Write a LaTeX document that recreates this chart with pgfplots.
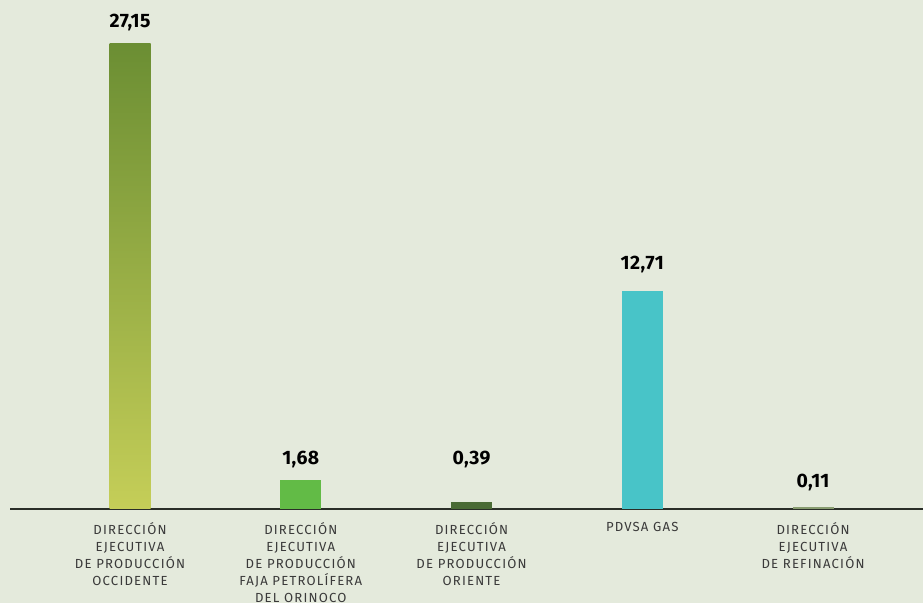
\documentclass[border=0pt]{standalone}
\usepackage{pgfplots}
\pgfplotsset{compat=1.18}
\usepackage{fontspec}
\setmainfont{Fira Sans}
\newfontfamily\labfont[LetterSpace=9]{Fira Sans}
\newfontfamily\numfont[LetterSpace=2]{Fira Sans}
\definecolor{bg}{HTML}{E4EADC}
\definecolor{bOne}{HTML}{6B8E33}
\definecolor{bOneM}{HTML}{B3BE50}
\definecolor{bOneB}{HTML}{C5CE58}
\definecolor{bTwo}{HTML}{62BB46}
\definecolor{bThree}{HTML}{4A6B35}
\definecolor{bFour}{HTML}{48C4C8}
\definecolor{bFive}{HTML}{889C70}
\definecolor{axc}{HTML}{2A2E28}
\definecolor{labc}{HTML}{3A3A3A}
\begin{document}
\begin{tikzpicture}
\useasboundingbox (0,0) rectangle (923bp,603bp);
\fill[bg] (0,0) rectangle (923bp,603bp);
\begin{axis}[
  at={(10bp,94bp)}, anchor=south west,
  scale only axis,
  width=913bp, height=497.6bp,
  xmin=-0.703, xmax=4.644,
  ymin=0, ymax=29,
  axis x line=bottom, axis y line=none,
  axis line style={axc, line width=1.2pt, -},
  x axis line style={-},
  xtick={0,1,2,3,4},
  xticklabels={
    {DIRECCIÓN\\EJECUTIVA\\DE PRODUCCIÓN\\OCCIDENTE},
    {DIRECCIÓN\\EJECUTIVA\\DE PRODUCCIÓN\\FAJA PETROLÍFERA\\DEL ORINOCO},
    {DIRECCIÓN\\EJECUTIVA\\DE PRODUCCIÓN\\ORIENTE},
    {PDVSA GAS},
    {DIRECCIÓN\\EJECUTIVA\\DE REFINACIÓN}},
  xticklabel style={align=center, font=\labfont\fontsize{13.2}{17}\selectfont, text=labc, anchor=north, yshift=-10bp},
  major tick length=0pt,
  ytick=\empty,
  clip=false,
  ybar, bar width=41bp, bar shift=0pt,
]
\addplot[draw=none, top color=bOne, middle color=bOneM, bottom color=bOneB] coordinates {(0,27.15)};
\addplot[draw=none, fill=bTwo] coordinates {(1,1.68)};
\addplot[draw=none, fill=bThree] coordinates {(2,0.39)};
\addplot[draw=none, fill=bFour] coordinates {(3,12.71)};
\addplot[draw=none, fill=bFive] coordinates {(4,0.11)};
\addplot[draw=none, mark=none, ybar=0pt, fill=none, bar width=0pt,
  nodes near coords, point meta=explicit symbolic,
  nodes near coords align=center,
  every node near coord/.append style={font=\numfont\bfseries\fontsize{19.5}{21}\selectfont, text=black, anchor=center}]
  coordinates {(0,28.38)[27,15] (1,2.91)[1,68] (2,2.91)[0,39] (3,14.22)[12,71] (4,1.52)[0,11]};
\end{axis}
\end{tikzpicture}
\end{document}
